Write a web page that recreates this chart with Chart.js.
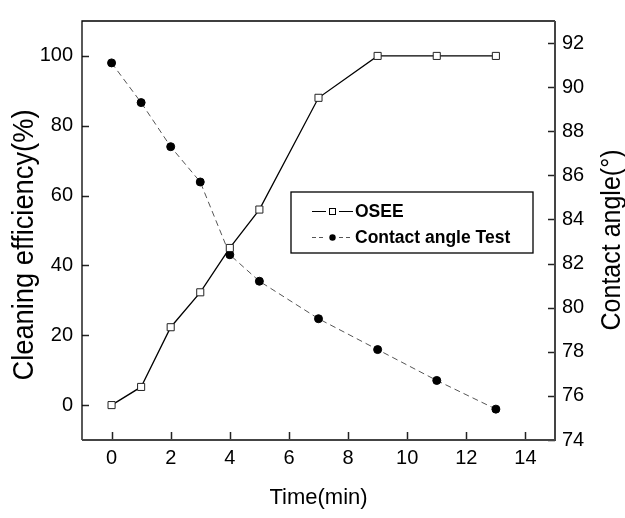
<!DOCTYPE html>
<html>
<head>
<meta charset="utf-8">
<script src="https://cdn.jsdelivr.net/npm/chart.js@4.4.1/dist/chart.umd.min.js"></script>
<style>
  html, body { margin: 0; padding: 0; background: #fff; }
  #wrap { width: 625px; height: 518px; }
</style>
</head>
<body>
<div id="wrap"><canvas id="chart" width="625" height="518"></canvas></div>
<script>
// time points (min)
var timeOsee = [0, 1, 2, 3, 4, 5, 7, 9, 11, 13];
var osee = [0, 5.2, 22.3, 32.3, 45, 56, 88, 100, 100, 100];
var timeAngle = [0, 1, 2, 3, 4, 5, 7, 9, 11, 13];
var contactAngle = [91.1, 89.3, 87.3, 85.7, 82.4, 81.2, 79.5, 78.1, 76.7, 75.4];

var xTicks = [0, 2, 4, 6, 8, 10, 12, 14];
var yTicks = [0, 20, 40, 60, 80, 100];
var y1Ticks = [74, 76, 78, 80, 82, 84, 86, 88, 90, 92];

var FONT = "'Liberation Sans', Arial, sans-serif";

function toPoints(xs, ys) {
  return xs.map(function (x, i) { return { x: x, y: ys[i] }; });
}

function setTicks(list) {
  return function (scale) {
    scale.ticks = list.map(function (v) { return { value: v }; });
  };
}

// frame, inward tick marks and axis titles
var framePlugin = {
  id: 'frame',
  afterDraw: function (chart) {
    var ctx = chart.ctx;
    var a = chart.chartArea;
    var s = chart.scales;
    ctx.save();

    ctx.strokeStyle = '#222';
    ctx.lineWidth = 1.5;
    ctx.beginPath();
    s.x.ticks.forEach(function (t) {
      var px = Math.round(s.x.getPixelForValue(t.value)) + 0.5;
      ctx.moveTo(px, a.bottom);
      ctx.lineTo(px, a.bottom - 8);
    });
    s.y.ticks.forEach(function (t) {
      var py = Math.round(s.y.getPixelForValue(t.value)) + 0.5;
      ctx.moveTo(a.left, py);
      ctx.lineTo(a.left + 7, py);
    });
    s.y1.ticks.forEach(function (t) {
      var py = Math.round(s.y1.getPixelForValue(t.value)) + 0.5;
      ctx.moveTo(a.right, py);
      ctx.lineTo(a.right - 7, py);
    });
    ctx.stroke();

    // box
    ctx.lineWidth = 1.3;
    ctx.strokeStyle = '#000';
    ctx.beginPath();
    ctx.moveTo(a.left, a.bottom);
    ctx.lineTo(a.left, a.top);
    ctx.lineTo(a.right, a.top);
    ctx.stroke();
    ctx.lineWidth = 2;
    ctx.strokeStyle = '#444';
    ctx.beginPath();
    ctx.moveTo(a.right, a.top);
    ctx.lineTo(a.right, a.bottom);
    ctx.lineTo(a.left, a.bottom);
    ctx.stroke();

    // axis titles
    ctx.fillStyle = '#000';
    ctx.textAlign = 'center';
    ctx.textBaseline = 'alphabetic';
    ctx.font = '22px ' + FONT;
    ctx.fillText('Time(min)', (a.left + a.right) / 2, 504);

    ctx.save();
    ctx.translate(33, 245);
    ctx.rotate(-Math.PI / 2);
    ctx.scale(1.05, 1.12);
    ctx.font = '26px ' + FONT;
    ctx.fillText('Cleaning efficiency(%)', 0, 0);
    ctx.restore();

    ctx.save();
    ctx.translate(620, 240);
    ctx.rotate(-Math.PI / 2);
    ctx.scale(1, 1.08);
    ctx.font = '25px ' + FONT;
    ctx.fillText('Contact angle(\u00B0)', 0, 0);
    ctx.restore();

    ctx.restore();
  }
};

// legend box inside the plot
var legendPlugin = {
  id: 'boxLegend',
  afterDraw: function (chart) {
    var ctx = chart.ctx;
    var ds = chart.data.datasets;
    var bx = 291, by = 192, bw = 242, bh = 61;
    ctx.save();
    ctx.fillStyle = '#fff';
    ctx.fillRect(bx, by, bw, bh);
    ctx.strokeStyle = '#000';
    ctx.lineWidth = 1.3;
    ctx.strokeRect(bx, by, bw, bh);

    var rows = [211, 237];
    ds.forEach(function (d, i) {
      var y = rows[i] + 0.5;
      ctx.strokeStyle = d.borderColor;
      ctx.lineWidth = 1.2;
      ctx.setLineDash(d.borderDash ? [4, 3] : []);
      ctx.beginPath();
      ctx.moveTo(312, y);
      ctx.lineTo(326, y);
      ctx.moveTo(339, y);
      ctx.lineTo(353, y);
      ctx.stroke();
      ctx.setLineDash([]);
      if (d.pointStyle === 'rect') {
        ctx.strokeStyle = '#000';
        ctx.lineWidth = 1;
        ctx.strokeRect(329.5, y - 3, 6, 6);
      } else {
        ctx.fillStyle = '#000';
        ctx.beginPath();
        ctx.arc(332.5, y, 3.2, 0, Math.PI * 2);
        ctx.fill();
      }
      ctx.fillStyle = '#000';
      ctx.font = 'bold 17.5px ' + FONT;
      ctx.textAlign = 'left';
      ctx.textBaseline = 'middle';
      ctx.fillText(d.label, 355, rows[i] + 1);
    });
    ctx.restore();
  }
};

var ctx = document.getElementById('chart');
var chart = new Chart(ctx, {
  type: 'line',
  data: {
    datasets: [
      {
        label: 'OSEE',
        data: toPoints(timeOsee, osee),
        yAxisID: 'y',
        borderColor: '#000',
        borderWidth: 1.3,
        pointStyle: 'rect',
        pointRadius: 5,
        pointBorderWidth: 1,
        pointBackgroundColor: '#fff',
        pointBorderColor: '#222',
        tension: 0
      },
      {
        label: 'Contact angle Test',
        data: toPoints(timeAngle, contactAngle),
        yAxisID: 'y1',
        borderColor: '#555',
        borderWidth: 1,
        borderDash: [6, 4],
        pointStyle: 'circle',
        pointRadius: 4,
        pointBorderWidth: 1,
        pointBackgroundColor: '#000',
        pointBorderColor: '#000',
        tension: 0
      }
    ]
  },
  options: {
    responsive: false,
    animation: false,
    devicePixelRatio: 1,
    layout: { padding: { top: 7, left: 0, right: 0, bottom: 0 } },
    plugins: {
      legend: { display: false },
      tooltip: { enabled: false },
      title: { display: false }
    },
    scales: {
      x: {
        type: 'linear',
        min: -1,
        max: 15,
        afterBuildTicks: setTicks(xTicks),
        afterFit: function (s) { s.height = 78; },
        grid: { display: false, drawTicks: false },
        border: { display: false },
        ticks: { color: '#000', padding: 6, font: { size: 20, family: FONT } }
      },
      y: {
        position: 'left',
        min: -10,
        max: 110,
        afterBuildTicks: setTicks(yTicks),
        afterFit: function (s) { s.width = 82; },
        grid: { display: false, drawTicks: false },
        border: { display: false },
        ticks: { color: '#000', padding: 9, font: { size: 20, family: FONT } }
      },
      y1: {
        position: 'right',
        min: 74,
        max: 93,
        afterBuildTicks: setTicks(y1Ticks),
        afterFit: function (s) { s.width = 70; },
        grid: { display: false, drawTicks: false },
        border: { display: false },
        ticks: { color: '#000', padding: 7, font: { size: 20, family: FONT } }
      }
    }
  },
  plugins: [framePlugin, legendPlugin]
});
</script>
</body>
</html>
